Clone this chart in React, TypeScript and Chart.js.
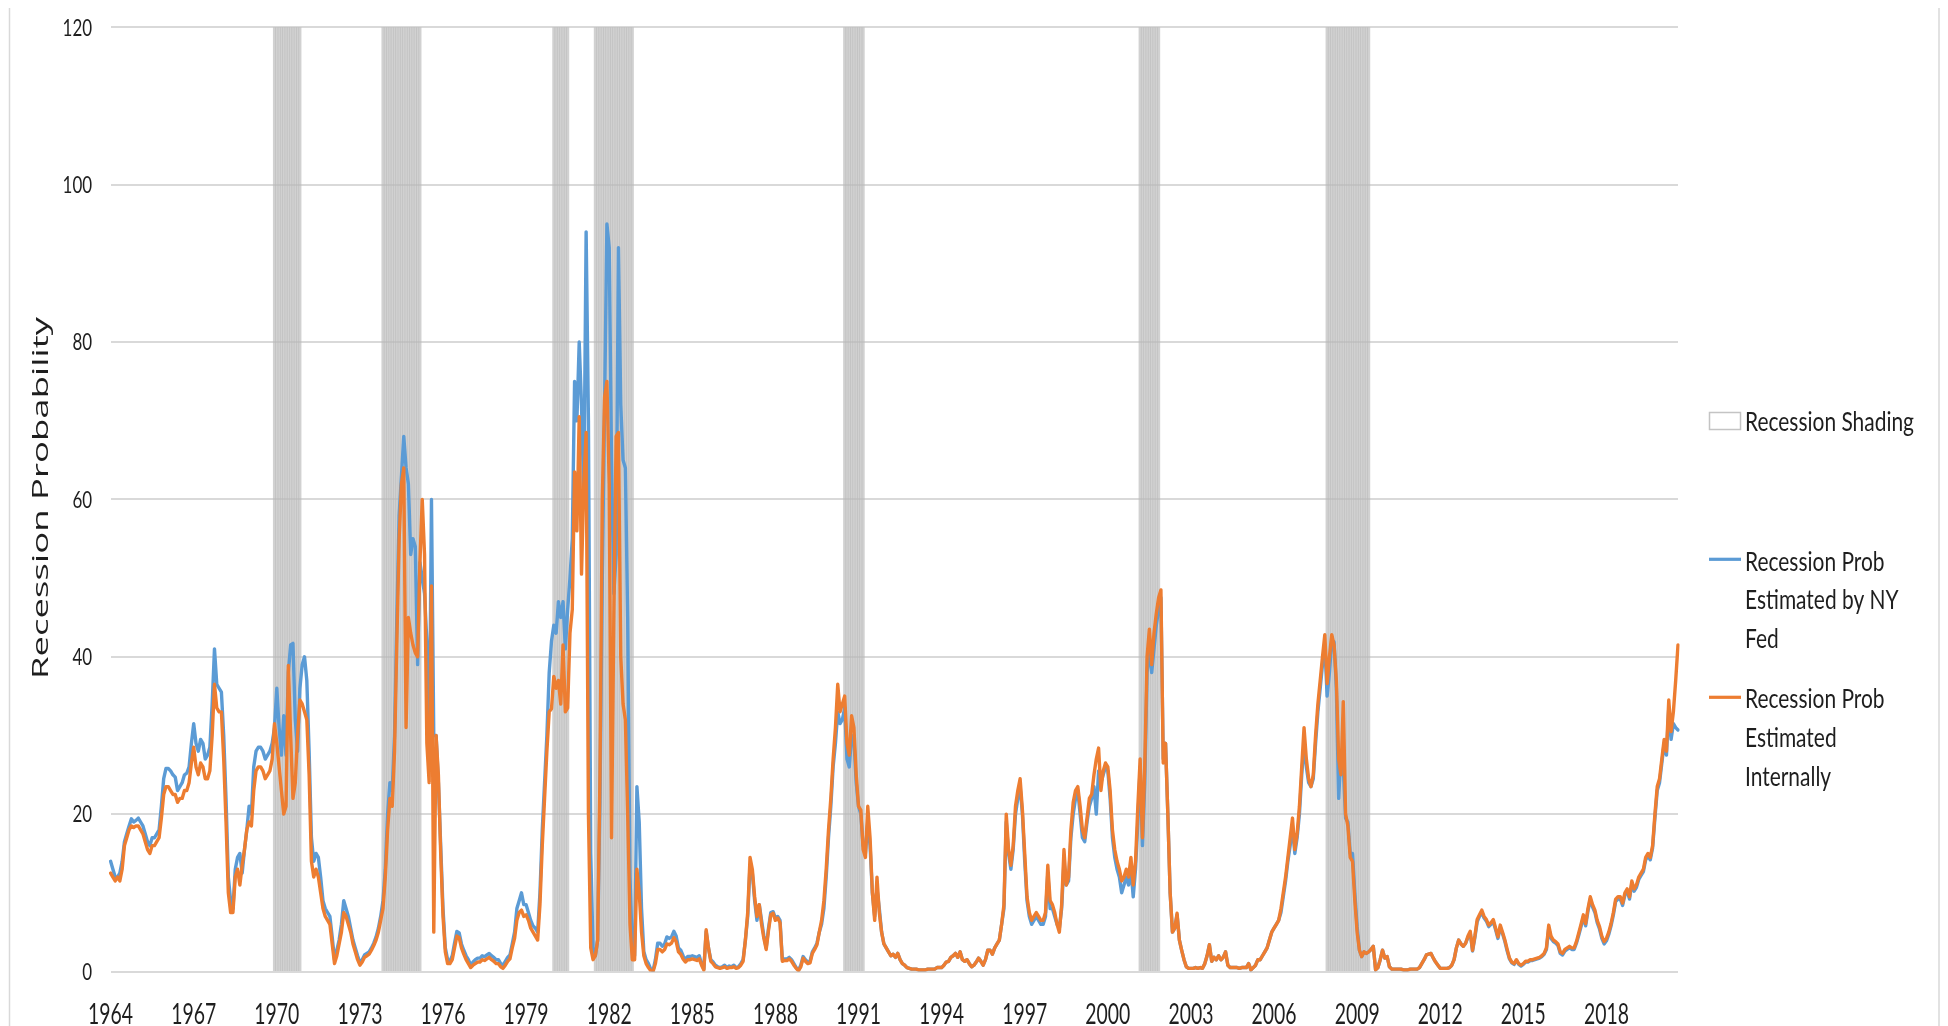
import React, { useEffect, useRef } from 'react';
import { Chart, registerables } from 'chart.js';

Chart.register(...registerables);

// ---------------- DATA ----------------
const START_YEAR = 1964;

// Recession probability estimated by NY Fed (monthly, Jan 1964 - Aug 2020)
const nyFed: number[] = [
  14, 13, 12, 12, 12.5, 14, 16.5, 17.5, 18.5, 19.4, 19, 19.2, // 1964
  19.5, 19, 18.5, 17.5, 16.5, 16, 17, 17, 17.5, 18, 21, 24.5, // 1965
  25.8, 25.8, 25.5, 25, 24.7, 23, 23.5, 24, 25, 25.2, 26, 29, // 1966
  31.5, 29, 28, 29.5, 29, 27, 27.5, 28.5, 34, 41, 36.5, 36, // 1967
  35.5, 30, 22, 12, 9, 8, 13, 14.5, 15, 12.5, 15.5, 18, // 1968
  21, 20, 26, 28, 28.5, 28.5, 28, 27, 27.5, 28, 29, 31, // 1969
  36, 31, 27.5, 32.5, 27.5, 38, 41.5, 41.7, 32, 28, 36, 39, // 1970
  40, 37, 28, 17, 14, 15, 14.5, 12, 9, 8, 7.5, 7, // 1971
  4.4, 1.5, 2.7, 4, 6, 9, 8, 7, 5.5, 4, 3, 2, // 1972
  1.1, 1.5, 2.1, 2.3, 2.5, 3, 3.6, 4.4, 5.5, 7, 9, 13, // 1973
  20, 24, 23, 30, 45, 58, 63, 68, 64, 62, 53, 55, // 1974
  54, 39, 52, 50, 48, 42, 26, 60, 30, 30, 24, 16, // 1975
  8, 3, 1.5, 1.3, 2, 3.6, 5.1, 4.9, 3.5, 2.7, 2, 1.5, // 1976
  0.8, 1.2, 1.5, 1.7, 1.7, 2, 1.9, 2.1, 2.3, 2, 1.8, 1.5, // 1977
  1.5, 1, 0.8, 1.3, 1.8, 2.1, 3.5, 5, 8, 9, 10, 8.5, // 1978
  8.5, 7.5, 6.5, 5.8, 5.5, 5, 10, 18, 24, 30, 38, 42, // 1979
  44, 43, 47, 45, 47, 41, 46, 50, 55, 75, 70, 80, // 1980
  72, 60, 94, 70, 15, 3, 2, 4, 22, 50, 72, 95, // 1981
  92, 65, 48, 53, 92, 72, 65, 64, 45, 12, 3, 2, // 1982
  23.5, 19, 8, 2.5, 1.5, 1, 0.3, 0.1, 1.5, 3.6, 3.6, 3.2, // 1983
  3.5, 4.4, 4.2, 4.4, 5.1, 4.5, 3, 2.7, 2, 1.5, 1.9, 1.9, // 1984
  2, 1.9, 1.8, 2, 1, 0.3, 5.1, 3, 1.5, 1.2, 0.8, 0.6, // 1985
  0.5, 0.6, 0.8, 0.5, 0.7, 0.6, 0.8, 0.5, 0.6, 1, 1.5, 4, // 1986
  7, 13.5, 12.5, 9, 6.5, 8.5, 6.5, 4.5, 3, 5.5, 7.5, 7.6, // 1987
  6.8, 7, 6.5, 1.5, 1.6, 1.6, 1.8, 1.5, 1, 0.5, 0.2, 0.8, // 1988
  1.9, 1.5, 1.2, 1.3, 2.5, 3, 3.6, 5, 6, 8, 12, 17, // 1989
  21, 26, 29, 33, 31.5, 32, 33.5, 27, 26, 30, 29.5, 24, // 1990
  21, 20, 16, 15, 19, 16, 10, 7, 10.5, 8, 5, 3.5, // 1991
  3, 2.5, 2, 2.2, 1.8, 2.3, 1.5, 1, 0.8, 0.5, 0.4, 0.3, // 1992
  0.3, 0.3, 0.2, 0.2, 0.2, 0.2, 0.3, 0.3, 0.3, 0.3, 0.5, 0.5, // 1993
  0.5, 0.8, 1.2, 1.3, 1.8, 2, 2.3, 1.8, 2.5, 1.5, 1.3, 1.5, // 1994
  1, 0.6, 0.8, 1.2, 1.7, 1.3, 0.8, 1.5, 2.7, 2.7, 2.2, 3, // 1995
  3.5, 4, 6, 8, 19, 15, 13, 15.5, 20, 22, 23.5, 20, // 1996
  14, 9, 7, 6, 6.5, 7, 6.5, 6, 6, 7, 12.5, 8, // 1997
  8, 7, 6, 5.5, 8, 14, 11, 11.5, 17, 20, 22, 23, // 1998
  20, 17, 16.5, 19, 21, 22, 23.5, 20, 25.5, 24, 25, 26, // 1999
  25.5, 22, 17, 14.5, 13, 12, 10, 11, 12, 11, 13, 9.5, // 2000
  13, 19, 26, 16, 24, 38, 41, 38, 41, 44, 46, 47.5, // 2001
  27, 29, 20, 10, 5, 5.5, 7.2, 4, 2.7, 1.5, 0.6, 0.4, // 2002
  0.4, 0.4, 0.5, 0.4, 0.5, 0.4, 1, 2, 3.4, 1.3, 1.8, 1.5, // 2003
  2, 1.5, 1.8, 2.5, 0.8, 0.5, 0.5, 0.5, 0.5, 0.4, 0.5, 0.5, // 2004
  0.5, 1, 0.2, 0.5, 0.8, 1.5, 1.5, 2, 2.5, 3, 4, 5, // 2005
  5.5, 6, 6.5, 7.5, 9.5, 11.5, 14, 16, 18.5, 15, 17, 20, // 2006
  25, 29, 26, 24, 23.5, 24.5, 29, 33, 36, 39, 41.5, 35, // 2007
  38, 42, 41.9, 36, 22, 28, 26, 19.5, 19, 15, 15, 10, // 2008
  5.7, 2.7, 1.9, 2.5, 2.3, 2.5, 2.8, 3.2, 0.2, 0.5, 1.5, 2.7, // 2009
  1.7, 1.9, 0.6, 0.3, 0.3, 0.3, 0.3, 0.3, 0.2, 0.2, 0.2, 0.3, // 2010
  0.3, 0.3, 0.3, 0.5, 1, 1.5, 2.1, 2.2, 2.3, 1.7, 1.2, 0.8, // 2011
  0.4, 0.4, 0.4, 0.4, 0.5, 0.8, 1.5, 3, 4, 3.5, 3.2, 3.6, // 2012
  4.3, 4.9, 2.6, 4.3, 6.3, 7, 7.5, 6.8, 6.4, 5.7, 6, 6.3, // 2013
  5.3, 4.2, 5.6, 4.8, 3.8, 2.6, 1.6, 1.1, 0.9, 1.4, 0.9, 0.7, // 2014
  0.9, 1.2, 1.2, 1.4, 1.4, 1.5, 1.6, 1.7, 1.9, 2.2, 2.8, 5.5, // 2015
  4.2, 3.8, 3.6, 3.3, 2.3, 2.1, 2.6, 2.8, 3, 2.8, 2.8, 3.6, // 2016
  4.6, 5.7, 6.9, 5.8, 7.7, 9.2, 8.2, 7.5, 6.2, 5.4, 4.2, 3.5, // 2017
  3.9, 4.7, 5.8, 7.2, 8.9, 9.2, 9.2, 8.4, 9.7, 10.2, 9.2, 11.2, // 2018
  10.2, 10.7, 11.7, 12.2, 12.7, 14.2, 14.7, 14.2, 15.7, 19.5, 23, 24, // 2019
  26.5, 29, 27.5, 33.5, 29.5, 31.5, 31, 30.7, // 2020
];

// Recession probability estimated internally (monthly, Jan 1964 - Aug 2020)
const internal: number[] = [
  12.5, 12, 11.5, 12, 11.5, 13, 16, 17, 18, 18.5, 18.3, 18.5, // 1964
  18.5, 18, 17.5, 16.5, 15.5, 15, 16, 16, 16.5, 17, 19.5, 22.5, // 1965
  23.5, 23.5, 23, 22.5, 22.5, 21.5, 22, 22, 23, 23, 24, 26.5, // 1966
  28.5, 26, 25, 26.5, 26, 24.5, 24.5, 25.5, 30, 36.5, 33.5, 33, // 1967
  33, 27, 19, 10, 7.5, 7.5, 12, 13, 11, 13.5, 15.5, 18, // 1968
  19, 18.5, 23, 25.5, 26, 26, 25.5, 24.5, 25, 25.5, 27, 31.5, // 1969
  29, 26, 23, 20, 21, 38.9, 30, 22, 24, 30, 34.5, 34, // 1970
  33, 32, 25, 14, 12, 13, 12, 10, 8, 7, 6.5, 6, // 1971
  3.5, 1, 2, 3.5, 5, 7.5, 7, 6, 5, 3.5, 2.5, 1.5, // 1972
  0.8, 1.2, 1.8, 2, 2.2, 2.7, 3.3, 4, 5, 6.5, 8, 12, // 1973
  18, 22, 21, 28, 42, 55, 62, 64, 31, 45, 43, 41.5, // 1974
  40.5, 40, 52, 60, 53, 29, 24, 49, 5, 30, 25, 15, // 1975
  7, 2.5, 1, 1, 1.5, 3, 4.5, 4.3, 3, 2.2, 1.5, 1, // 1976
  0.5, 0.8, 1, 1.2, 1.2, 1.5, 1.4, 1.6, 1.8, 1.5, 1.3, 1, // 1977
  1, 0.6, 0.4, 0.8, 1.3, 1.6, 3, 4.2, 6.5, 7.5, 7.8, 7, // 1978
  7.2, 6.5, 5.5, 5, 4.5, 4, 8.5, 16, 22, 28, 33, 33.4, // 1979
  37.5, 36, 37, 34, 41.5, 33, 33.5, 43, 46, 63.5, 56, 70.5, // 1980
  50.5, 62, 68.5, 20, 3, 1.5, 2, 4, 25, 60, 73, 75, // 1981
  62, 17, 45, 68, 68.5, 40, 34, 32, 20, 6, 1.5, 1.5, // 1982
  13, 10, 5, 2, 1, 0.5, 0.1, 0, 1, 2.8, 2.8, 2.5, // 1983
  2.8, 3.5, 3.4, 3.6, 4.3, 3.8, 2.5, 2.2, 1.6, 1.2, 1.5, 1.5, // 1984
  1.6, 1.5, 1.4, 1.6, 0.8, 0.2, 5.3, 3, 1.3, 1, 0.6, 0.5, // 1985
  0.4, 0.5, 0.6, 0.4, 0.5, 0.5, 0.6, 0.4, 0.5, 0.8, 1.3, 4, // 1986
  7.5, 14.5, 13, 9.5, 7, 8.5, 6, 4.2, 2.8, 5.2, 7.2, 7.4, // 1987
  6.5, 6.8, 6.2, 1.3, 1.4, 1.4, 1.6, 1.3, 0.8, 0.4, 0.1, 0.6, // 1988
  1.7, 1.3, 1, 1.1, 2.3, 2.8, 3.4, 5, 6.5, 9, 13, 18, // 1989
  22, 27, 31, 36.5, 33, 34, 35, 29, 27.5, 32.5, 31, 25, // 1990
  21, 20.5, 15.5, 14.5, 21, 17, 10, 6.5, 12, 7.5, 5, 3.5, // 1991
  3, 2.5, 2, 2.2, 1.8, 2.3, 1.5, 1, 0.8, 0.5, 0.4, 0.3, // 1992
  0.3, 0.3, 0.2, 0.2, 0.2, 0.2, 0.3, 0.3, 0.3, 0.3, 0.5, 0.5, // 1993
  0.5, 0.8, 1.2, 1.3, 1.8, 2, 2.3, 1.8, 2.5, 1.5, 1.3, 1.5, // 1994
  1, 0.6, 0.8, 1.2, 1.7, 1.3, 0.8, 1.5, 2.7, 2.7, 2.2, 3, // 1995
  3.5, 4, 6, 8.5, 20, 15.5, 13.5, 16, 21, 23, 24.5, 20.5, // 1996
  15, 9.5, 7.5, 6.5, 7, 7.5, 7, 6.5, 6.5, 7.5, 13.5, 9, // 1997
  8.5, 7.5, 6, 5, 8.5, 15.5, 11, 12, 18, 21.5, 23, 23.5, // 1998
  21, 18, 17, 19.5, 22, 22.5, 25, 27, 28.4, 23, 25.5, 26.5, // 1999
  26, 23, 18, 15.5, 14, 13, 11.5, 12, 13, 12, 14.5, 11, // 2000
  14, 21, 27, 17, 26, 40, 43.5, 39, 43, 45.5, 47.5, 48.5, // 2001
  26.5, 29, 20, 10, 5, 5.5, 7.4, 4, 2.7, 1.5, 0.6, 0.4, // 2002
  0.4, 0.4, 0.5, 0.4, 0.5, 0.4, 1, 2, 3.4, 1.3, 1.8, 1.5, // 2003
  2, 1.5, 1.8, 2.5, 0.8, 0.5, 0.5, 0.5, 0.5, 0.4, 0.5, 0.5, // 2004
  0.5, 1, 0.2, 0.5, 0.8, 1.5, 1.5, 2, 2.5, 3, 4, 5, // 2005
  5.5, 6, 6.5, 8, 10, 12, 14.5, 17, 19.5, 15.5, 17.5, 21, // 2006
  26, 31, 27, 24.5, 23.5, 25, 30, 34, 37, 40, 42.8, 36.6, // 2007
  40, 42.8, 41.5, 37, 27, 25, 34.3, 20, 18.5, 14.5, 14, 9, // 2008
  5, 2.7, 1.9, 2.5, 2.3, 2.5, 2.8, 3.2, 0.2, 0.5, 1.5, 2.7, // 2009
  1.7, 1.9, 0.6, 0.3, 0.3, 0.3, 0.3, 0.3, 0.2, 0.2, 0.2, 0.3, // 2010
  0.3, 0.3, 0.3, 0.5, 1, 1.5, 2.1, 2.2, 2.3, 1.7, 1.2, 0.8, // 2011
  0.4, 0.4, 0.4, 0.4, 0.5, 0.8, 1.5, 3, 4, 3.5, 3.2, 3.6, // 2012
  4.5, 5.1, 2.7, 4.5, 6.6, 7.2, 7.8, 7, 6.6, 5.9, 6.2, 6.6, // 2013
  5.5, 4.4, 5.9, 5, 4, 2.8, 1.7, 1.2, 1, 1.5, 1, 0.8, // 2014
  1, 1.3, 1.3, 1.5, 1.5, 1.6, 1.7, 1.8, 2, 2.3, 3, 5.9, // 2015
  4.5, 4, 3.8, 3.5, 2.5, 2.3, 2.8, 3, 3.2, 3, 3, 3.8, // 2016
  4.9, 6, 7.2, 6.1, 8, 9.5, 8.5, 7.8, 6.5, 5.7, 4.5, 3.8, // 2017
  4.2, 5, 6.1, 7.5, 9.2, 9.5, 9.5, 8.7, 10, 10.5, 9.5, 11.5, // 2018
  10.5, 11, 12, 12.5, 13, 14.5, 15, 14.5, 16, 20, 23.5, 24.5, // 2019
  27, 29.5, 28, 34.5, 30.5, 33, 37, 41.5, // 2020
];

// NBER recessions (first and last month)
const recessionStart = ['1969-12', '1973-11', '1980-01', '1981-07', '1990-07', '2001-03', '2007-12'];
const recessionEnd = ['1970-11', '1975-03', '1980-07', '1982-11', '1991-03', '2001-11', '2009-06'];

const xTickYears = [1964, 1967, 1970, 1973, 1976, 1979, 1982, 1985, 1988, 1991, 1994, 1997, 2000, 2003, 2006, 2009, 2012, 2015, 2018];
const yTicks = [0, 20, 40, 60, 80, 100, 120];

const yTitle = 'Recession Probability';
const legendShading = ['Recession Shading'];
const legendNyFed = ['Recession Prob', 'Estimated by NY', 'Fed'];
const legendInternal = ['Recession Prob', 'Estimated', 'Internally'];

// ---------------- STYLE ----------------
const BLUE = '#5B9BD5';
const ORANGE = '#ED7D31';
const SHADE = 'rgba(185,185,185,0.66)';
const GRID = '#d9d9d9';
const TEXT = '#1e1e1e';
const FONT = 'Lato, "Open Sans", sans-serif';

const monthLabels = nyFed.map((_, i) => {
  const y = START_YEAR + Math.floor(i / 12);
  const m = (i % 12) + 1;
  return `${y}-${m < 10 ? '0' + m : m}`;
});

const inRecession = (label: string) =>
  recessionStart.some((s, k) => label >= s && label <= recessionEnd[k]);

const shading = monthLabels.map((l) => (inRecession(l) ? 120 : null));

function squeezed(ctx: CanvasRenderingContext2D, text: string, x: number, y: number, kx: number, align: CanvasTextAlign) {
  ctx.save();
  ctx.translate(x, y);
  ctx.scale(kx, 1);
  ctx.textAlign = align;
  ctx.textBaseline = 'alphabetic';
  ctx.fillText(text, 0, 0);
  ctx.restore();
}

const textPlugin = {
  id: 'excelTexts',
  afterDraw(chart: any) {
    const { ctx, chartArea: ca, scales } = chart;
    ctx.save();

    // chart area border (left / right)
    ctx.strokeStyle = GRID;
    ctx.lineWidth = 1.5;
    ctx.beginPath();
    ctx.moveTo(1.5, 0);
    ctx.lineTo(1.5, chart.height);
    ctx.moveTo(chart.width - 1, 0);
    ctx.lineTo(chart.width - 1, chart.height);
    ctx.stroke();

    ctx.fillStyle = TEXT;

    // y tick labels
    ctx.font = `23px ${FONT}`;
    const ky = 29.5 / ctx.measureText('120').width;
    yTicks.forEach((v) => {
      squeezed(ctx, String(v), ca.left - 18.5, scales.y.getPixelForValue(v) + 8.3, ky, 'right');
    });

    // x tick labels
    ctx.font = `29px ${FONT}`;
    const kx = 45 / ctx.measureText('1964').width;
    xTickYears.forEach((yr) => {
      const idx = (yr - START_YEAR) * 12;
      squeezed(ctx, String(yr), scales.x.getPixelForValue(idx), ca.bottom + 52.5, kx, 'center');
    });

    // y axis title
    ctx.font = `36px "Open Sans", ${FONT}`;
    const tw = ctx.measureText(yTitle).width;
    ctx.save();
    ctx.translate(40, 490);
    ctx.rotate(-Math.PI / 2);
    ctx.scale(362 / tw, 0.62);
    ctx.textAlign = 'center';
    ctx.textBaseline = 'alphabetic';
    ctx.fillText(yTitle, 0, 0);
    ctx.restore();

    // legend
    ctx.font = `26.5px ${FONT}`;
    const kl = 169 / ctx.measureText(legendShading[0]).width;
    const tx = 1737;
    const lh = 38.6;
    // shading box
    ctx.fillStyle = '#ffffff';
    ctx.fillRect(1701.5, 404.5, 31, 17);
    ctx.strokeStyle = '#c4c4c4';
    ctx.lineWidth = 1.5;
    ctx.strokeRect(1701.5, 404.5, 31, 17);
    ctx.fillStyle = TEXT;
    legendShading.forEach((t, k) => squeezed(ctx, t, tx, 423 + k * lh, kl, 'left'));
    // NY Fed
    ctx.strokeStyle = BLUE;
    ctx.lineWidth = 3.2;
    ctx.beginPath();
    ctx.moveTo(1701, 551.3);
    ctx.lineTo(1733, 551.3);
    ctx.stroke();
    legendNyFed.forEach((t, k) => squeezed(ctx, t, tx, 562.7 + k * lh, kl, 'left'));
    // Internal
    ctx.strokeStyle = ORANGE;
    ctx.beginPath();
    ctx.moveTo(1701, 689.3);
    ctx.lineTo(1733, 689.3);
    ctx.stroke();
    legendInternal.forEach((t, k) => squeezed(ctx, t, tx, 700.3 + k * lh, kl, 'left'));

    ctx.restore();
  },
};

export default function App() {
  const canvasRef = useRef<HTMLCanvasElement | null>(null);

  useEffect(() => {
    document.documentElement.style.overflow = 'hidden';
    document.body.style.overflow = 'hidden';
    const canvas = canvasRef.current;
    if (!canvas) return;
    const chart = new Chart(canvas, {
      type: 'line',
      data: {
        labels: monthLabels,
        datasets: [
          {
            type: 'line',
            label: 'Recession Prob Estimated Internally',
            data: internal,
            borderColor: ORANGE,
            backgroundColor: ORANGE,
            borderWidth: 3.4,
            pointRadius: 0,
            tension: 0,
            borderJoinStyle: 'round',
            borderCapStyle: 'round',
            order: 0,
          },
          {
            type: 'line',
            label: 'Recession Prob Estimated by NY Fed',
            data: nyFed,
            borderColor: BLUE,
            backgroundColor: BLUE,
            borderWidth: 3.4,
            pointRadius: 0,
            tension: 0,
            borderJoinStyle: 'round',
            borderCapStyle: 'round',
            order: 1,
          },
          {
            type: 'bar',
            label: 'Recession Shading',
            data: shading as any,
            backgroundColor: SHADE,
            borderWidth: 0,
            barPercentage: 1,
            categoryPercentage: 1,
            inflateAmount: 0.4,
            order: 2,
          } as any,
        ],
      },
      options: {
        animation: false,
        responsive: true,
        maintainAspectRatio: false,
        events: [],
        layout: { padding: { left: 102.6, right: 262, top: 19.3, bottom: 54.5 } },
        plugins: { legend: { display: false }, tooltip: { enabled: false } },
        scales: {
          x: {
            type: 'category',
            offset: false,
            grid: { display: false, drawTicks: false },
            border: { display: false },
            ticks: { display: false, autoSkip: false, maxRotation: 0, minRotation: 0 },
            afterFit: (s: any) => {
              s.height = 0;
            },
          },
          y: {
            min: 0,
            max: 120,
            ticks: { display: false, stepSize: 20 },
            grid: { color: GRID, lineWidth: 2, drawTicks: false },
            border: { display: false },
            afterFit: (s: any) => {
              s.width = 0;
            },
          },
        },
      } as any,
      plugins: [textPlugin],
    });
    return () => chart.destroy();
  }, []);

  return (
    <div style={{ width: 1932, height: 1018, position: 'relative', overflow: 'hidden', background: '#fff' }}>
      <canvas ref={canvasRef} style={{ display: 'block' }} />
    </div>
  );
}
